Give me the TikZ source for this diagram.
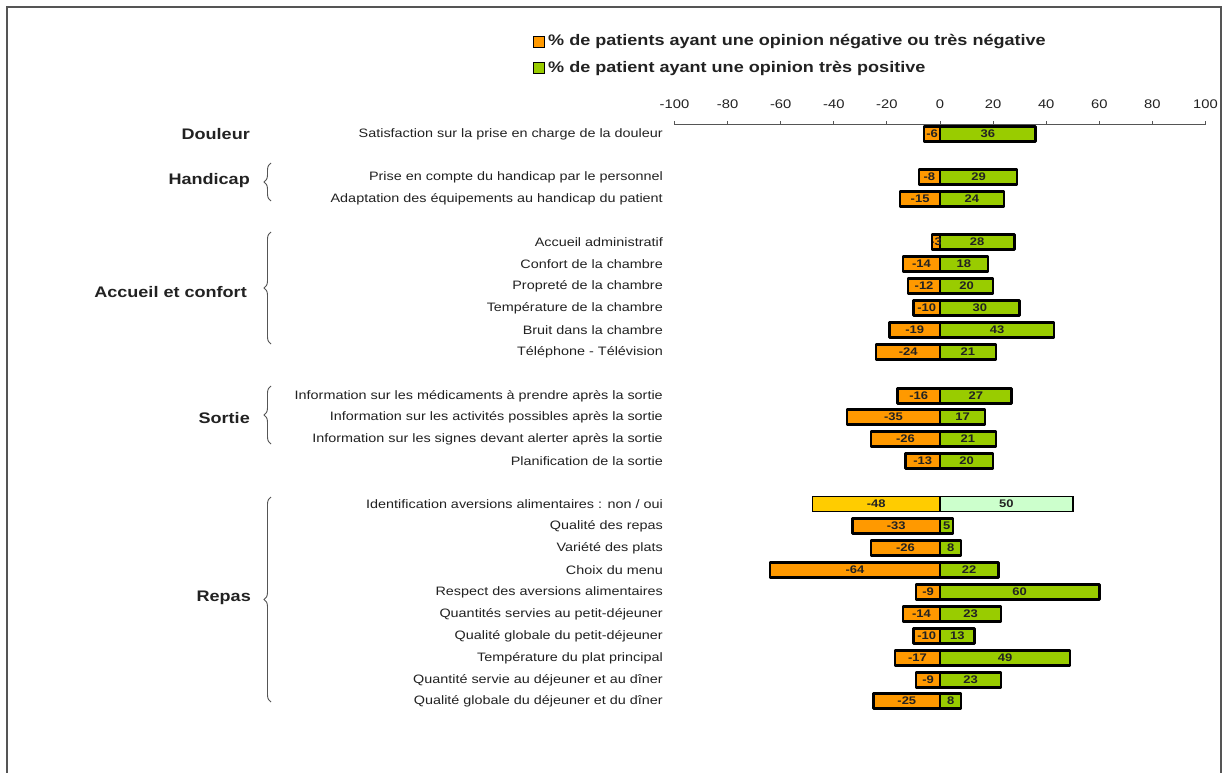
\documentclass[tikz,border=0pt]{standalone}
\usepackage{fontspec}
\setmainfont[FakeStretch=1.18]{Liberation Sans}
\usetikzlibrary{decorations.pathreplacing}
\definecolor{negc}{HTML}{FF9900}
\definecolor{posc}{HTML}{99CC00}
\definecolor{negy}{HTML}{FFCC00}
\definecolor{posl}{HTML}{CCFFCC}
\definecolor{txt}{HTML}{222222}
\definecolor{axc}{HTML}{555555}
\tikzset{
  segb/.style={draw=black, line width=1.3pt},
  outerb/.style={draw=black, line width=2.4pt, line join=round},
  barlab/.style={font=\bfseries\fontsize{11}{12}\selectfont, text=txt, inner sep=0pt},
  itemlab/.style={font=\fontsize{12.2}{14}\selectfont, text=txt, anchor=east, inner sep=0pt},
  catlab/.style={font=\bfseries\fontsize{15.3}{17}\selectfont, text=txt, anchor=east, inner sep=0pt},
  axlab/.style={font=\fontsize{12.5}{14}\selectfont, text=txt, inner sep=0pt},
  legtxt/.style={font=\bfseries\fontsize{15.3}{17}\selectfont, text=txt, anchor=west, inner sep=0pt},
  legbox/.style={draw=black, line width=1.8pt, minimum size=11pt, inner sep=0pt},
  bracestyle/.style={draw=axc, line width=0.9pt, decorate, decoration={brace, amplitude=7pt}},
  frame/.style={draw=axc, line width=1.6pt}
}
\begin{document}
\begin{tikzpicture}[x=1pt,y=-1pt]
\useasboundingbox (0,0) rectangle (1224,773);
\fill[white] (0,0) rectangle (1224,773);
\draw[frame] (7,773) -- (7,7) -- (1221,7) -- (1221,773);

% legend
\node[legbox, fill=negc] (lb1) at (539,42) {};
\node[legtxt] (lt1) at (548,42) {\% de patients ayant une opinion négative ou très négative};
\node[legbox, fill=posc] (lb2) at (539,68) {};
\node[legtxt] (lt2) at (548,68) {\% de patient ayant une opinion très positive};

% axis
\draw[axc, line width=1pt] (675,125) -- (1206,125);
\foreach \v [count=\k] in {-100,-80,-60,-40,-20,0,20,40,60,80,100}{
  \pgfmathsetmacro\xv{940+\v*2.655}
  \draw[axc, line width=1pt] (\xv,125) -- (\xv,121);
  \node[axlab] (ax\k) at (\xv,104) {\v};
}

% bars
\foreach \y/\n/\p/\t [count=\i] in {
134/-6/36/Satisfaction sur la prise en charge de la douleur,
177/-8/29/Prise en compte du handicap par le personnel,
199/-15/24/Adaptation des équipements au handicap du patient,
242/-3/28/Accueil administratif,
264/-14/18/Confort de la chambre,
286/-12/20/Propreté de la chambre,
308/-10/30/Température de la chambre,
330/-19/43/Bruit dans la chambre,
352/-24/21/Téléphone - Télévision,
396/-16/27/Information sur les médicaments à prendre après la sortie,
417/-35/17/Information sur les activités possibles après la sortie,
439/-26/21/Information sur les signes devant alerter après la sortie,
461/-13/20/Planification de la sortie,
526/-33/5/Qualité des repas,
548/-26/8/Variété des plats,
570/-64/22/Choix du menu,
592/-9/60/Respect des aversions alimentaires,
614/-14/23/Quantités servies au petit-déjeuner,
636/-10/13/Qualité globale du petit-déjeuner,
658/-17/49/Température du plat principal,
680/-9/23/Quantité servie au déjeuner et au dîner,
701/-25/8/Qualité globale du déjeuner et du dîner}{
  \pgfmathsetmacro\xn{940+\n*2.655}
  \pgfmathsetmacro\xp{940+\p*2.655}
  \draw[segb, fill=negc] (\xn,\y-7.5) rectangle (940,\y+7.5);
  \draw[segb, fill=posc] (940,\y-7.5) rectangle (\xp,\y+7.5);
  \begin{scope}
    \clip (\xn,\y-7.5) rectangle (940,\y+7.5);
    \node[barlab] (bn\i) at ({(\xn+940)/2},\y) {\n};
  \end{scope}
  \node[barlab] (bp\i) at ({(\xp+940)/2},\y) {\p};
  \draw[outerb] (\xn,\y-7.5) rectangle (\xp,\y+7.5);
  \node[itemlab] (it\i) at (663,\y) {\t};
}

% special row
\pgfmathsetmacro\xn{940-48*2.655}
\pgfmathsetmacro\xp{940+50*2.655}
\draw[segb, fill=negy] (\xn,496.5) rectangle (940,511.5);
\draw[segb, fill=posl] (940,496.5) rectangle (\xp,511.5);
\node[barlab] (bsn) at ({(\xn+940)/2},504) {-48};
\node[barlab] (bsp) at ({(\xp+940)/2},504) {50};
\draw[draw=black, line width=1.8pt] (\xn,496.5) rectangle (\xp,511.5);
\node[itemlab] (its) at (663,504) {Identification aversions alimentaires : non / oui};

% categories
\node[catlab] (c1) at (250,134) {Douleur};
\node[catlab] (c2) at (250,181) {Handicap};
\node[catlab] (c3) at (247,292) {Accueil et confort};
\node[catlab] (c4) at (250,418) {Sortie};
\node[catlab] (c5) at (251,598) {Repas};

% braces
\coordinate (h1) at (271,201); \coordinate (h2) at (271,163);
\coordinate (a1) at (271,344); \coordinate (a2) at (271,232);
\coordinate (s1) at (271,444); \coordinate (s2) at (271,386);
\coordinate (r1) at (271,702); \coordinate (r2) at (271,497);
\draw[bracestyle] (h1) -- (h2);
\draw[bracestyle] (a1) -- (a2);
\draw[bracestyle] (s1) -- (s2);
\draw[bracestyle] (r1) -- (r2);
\end{tikzpicture}
\end{document}
